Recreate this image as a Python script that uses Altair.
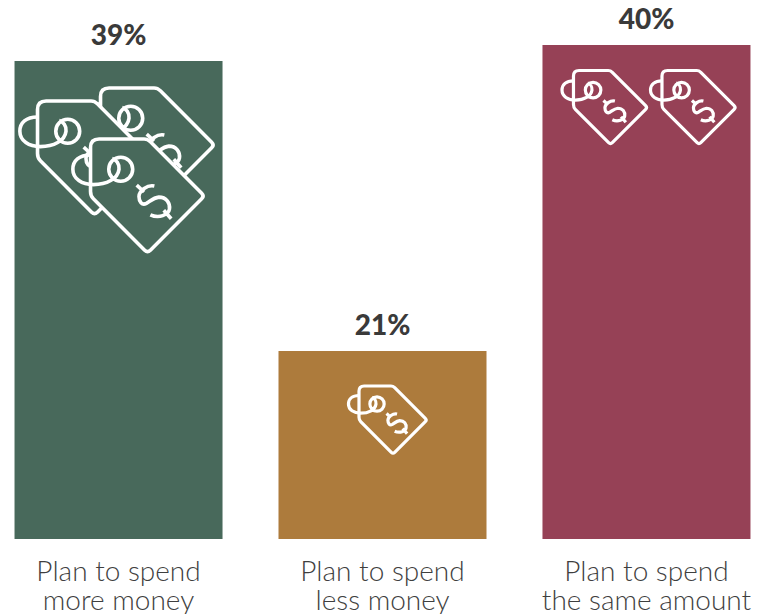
import altair as alt
import pandas as pd

categories = ["Plan to spend\nmore money", "Plan to spend\nless money", "Plan to spend\nthe same amount"]
shares = [39, 21, 40]
share_labels = ["39%", "21%", "40%"]
bar_colors = ["#48695b", "#ad7b3c", "#964156"]

# One price tag per row: which bar it sits on, offset from the bar's top centre,
# half-width of the tag and stroke weight. Later rows are drawn in front.
tag_bar = [0, 0, 0, 1, 2, 2]
tag_dx = [39, -24, 29, 10.5, -36, 52.5]
tag_dy = [84, 97, 135, 69, 62.5, 62.5]
tag_half = [57, 57, 57, 34, 37, 37]
tag_stroke = [3.6, 3.6, 3.6, 3.2, 3.2, 3.2]

TAG_BODY = (
    "M-.85,-1 L-.06,-1 Q0,-1 .05,-.95 L.95,-.05 Q1,0 .95,.05 L.05,.95 Q0,1 -.05,.95 "
    "L-.95,.05 Q-1,0 -1,-.08 L-1,-.85 Q-1,-1 -.85,-1 Z"
)
TAG_DETAIL = (
    # eyelet
    "M-.26,-.47 A.21,.21 0 1 1 -.68,-.47 A.21,.21 0 1 1 -.26,-.47 Z "
    # cord looping round the tag's edge
    "M-1,-.72 C-1.2,-.72 -1.31,-.62 -1.31,-.47 C-1.31,-.3 -1.15,-.2 -.95,-.2 "
    "C-.72,-.2 -.52,-.3 -.5,-.47 C-.49,-.56 -.55,-.64 -.62,-.66 "
    # dollar sign, tilted with the tag
    "M.12,-.175 C0,-.2 -.15,-.1 -.15,.01 C-.15,.1 -.1,.17 -.02,.13 C.05,.09 .1,.03 .2,.02 "
    "C.33,.02 .4,.12 .385,.23 C.37,.33 .2,.4 .05,.33 "
    "M-.19,-.19 L-.06,-.07 M.285,.25 L.415,.4"
)

bars_df = pd.DataFrame({
    "category": categories,
    "share": shares,
    "label": share_labels,
    "color": bar_colors,
})

x = alt.X(
    "category:N",
    sort=categories,
    scale=alt.Scale(domain=categories, paddingInner=0.21, paddingOuter=0.054),
    axis=alt.Axis(
        title=None,
        labelAngle=0,
        domain=False,
        ticks=False,
        labelFont="Lato",
        labelFontSize=28,
        labelFontWeight=300,
        labelColor="#3f3f3f",
        labelLineHeight=29,
        labelPadding=19,
        labelAlign="center",
        labelLimit=400,
        labelExpr="split(datum.label, '\\n')",
    ),
)
y = alt.Y(
    "share:Q",
    scale=alt.Scale(domain=[0, 21, 39, 40], range=[539, 351, 61, 45]),
    axis=None,
)

bars = alt.Chart(bars_df).mark_bar(size=208).encode(
    x=x,
    y=y,
    color=alt.Color("color:N", scale=None),
)

value_text = alt.Chart(bars_df).mark_text(
    font="Lato",
    fontSize=28,
    fontWeight=900,
    color="#3a3a3a",
    baseline="alphabetic",
    dy=-16,
).encode(x=x, y=y, text="label:N")

layers = [bars, value_text]
for bar, dx, dy, half, stroke in zip(tag_bar, tag_dx, tag_dy, tag_half, tag_stroke):
    one = bars_df.iloc[[bar]]
    size = (2 * half) ** 2
    body = alt.Chart(one).mark_point(
        shape=TAG_BODY, size=size, filled=True, fill=bar_colors[bar], stroke="white",
        strokeWidth=stroke, opacity=1, xOffset=dx, yOffset=dy,
    ).encode(x=x, y=y)
    detail = alt.Chart(one).mark_point(
        shape=TAG_DETAIL, size=size, filled=False, stroke="white",
        strokeWidth=stroke, opacity=1, xOffset=dx, yOffset=dy,
    ).encode(x=x, y=y)
    layers += [body, detail]

chart = alt.layer(*layers).properties(
    width=765,
    height=539,
    padding={"left": 0, "top": 0, "right": 0, "bottom": 75},
    autosize=alt.AutoSizeParams(type="none"),
    background="white",
).configure_view(stroke=None)

chart.save("out.html", embed_options={"renderer": "svg", "actions": False})
